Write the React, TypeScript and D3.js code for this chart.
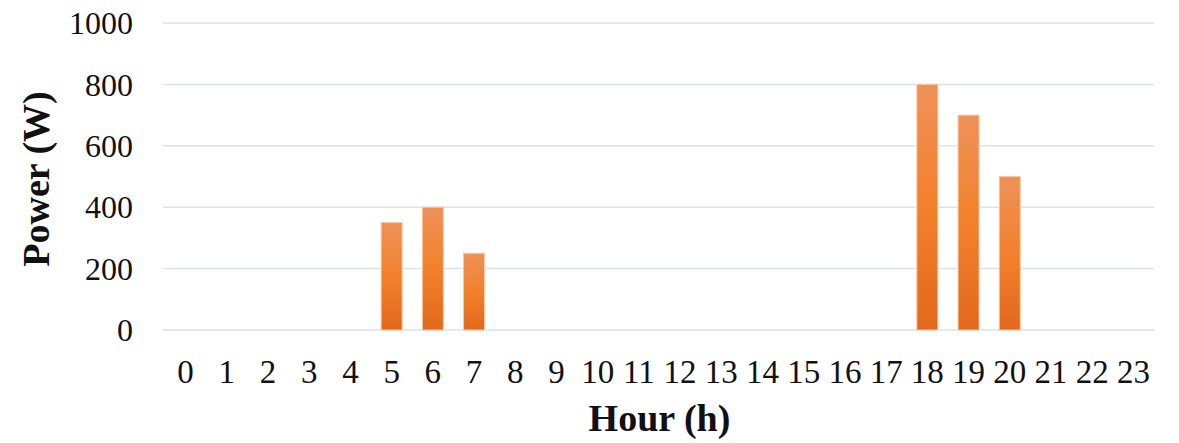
import React from "react";
import * as d3 from "d3";

const hours: string[] = Array.from({ length: 24 }, (_, i) => String(i));
const power: number[] = [0, 0, 0, 0, 0, 350, 400, 250, 0, 0, 0, 0, 0, 0, 0, 0, 0, 0, 800, 700, 500, 0, 0, 0];
const yTicks: number[] = [0, 200, 400, 600, 800, 1000];

const W = 1179;
const H = 443;
const plot = { left: 165, right: 1154, top: 23, bottom: 330 };
const font = "'Liberation Serif', 'Times New Roman', serif";

export default function App() {
  const x = d3.scaleBand<string>().domain(hours).range([plot.left, plot.right]).paddingInner(0.49).paddingOuter(0.245);
  const y = d3.scaleLinear().domain([0, 1000]).range([plot.bottom, plot.top]);

  return (
    <svg width={W} height={H} style={{ position: "absolute", left: 0, top: 0, background: "#fff" }}>
      <defs>
        <linearGradient id="barFill" x1="0" y1="0" x2="0" y2="1">
          <stop offset="0" stopColor="#EF9158" />
          <stop offset="0.5" stopColor="#F3812C" />
          <stop offset="1" stopColor="#E2681B" />
        </linearGradient>
      </defs>
      {yTicks.map((t) => (
        <g key={t}>
          <line x1={plot.left - 2} x2={plot.right} y1={y(t)} y2={y(t)} stroke="#DDE1E8" strokeWidth={1.5} />
          <text x={133} y={y(t)} dy="0.35em" textAnchor="end" fontFamily={font} fontSize={32} fill="#111">
            {t}
          </text>
        </g>
      ))}
      {hours.map((h, i) =>
        power[i] > 0 ? (
          <rect
            key={h}
            x={x(h)!}
            y={y(power[i])}
            width={x.bandwidth()}
            height={y(0) - y(power[i])}
            fill="url(#barFill)"
            stroke="#F8C9A8"
            strokeWidth={1}
          />
        ) : null
      )}
      {hours.map((h) => (
        <text key={h} x={x(h)! + x.bandwidth() / 2} y={383} textAnchor="middle" fontFamily={font} fontSize={33} fill="#111">
          {h}
        </text>
      ))}
      <text x={(plot.left + plot.right) / 2} y={431} textAnchor="middle" fontFamily={font} fontSize={38} fontWeight="bold" fill="#111">
        Hour (h)
      </text>
      <text
        transform={`translate(49, 179) rotate(-90)`}
        textAnchor="middle"
        fontFamily={font}
        fontSize={38}
        fontWeight="bold"
        fill="#111"
      >
        Power (W)
      </text>
    </svg>
  );
}
